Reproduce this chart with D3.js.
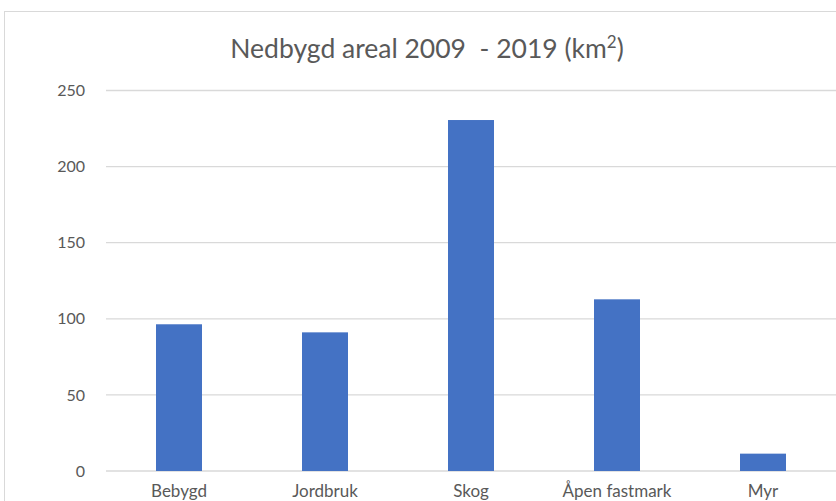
<!DOCTYPE html>
<html>
<head>
<meta charset="utf-8">
<script src="https://cdn.jsdelivr.net/npm/d3@7"></script>
<style>
  html, body { margin: 0; padding: 0; background: #fff; }
  svg { display: block; font-family: Lato, "Open Sans", sans-serif; }
</style>
</head>
<body>
<svg id="chart" width="836" height="501"></svg>
<script>
// ── Data ─────────────────────────────────────────────────────────────────────
const categories = ["Bebygd", "Jordbruk", "Skog", "Åpen fastmark", "Myr"];
const values     = [96.4, 91.1, 230.6, 112.8, 11.4];
const yTicks     = [0, 50, 100, 150, 200, 250];

// ── Layout ───────────────────────────────────────────────────────────────────
const W = 836, H = 501;
const plot = { left: 106, right: 836, top: 90.5, bottom: 471 };
const textColor = "#595959";

const svg = d3.select("#chart");

// Chart frame (right edge runs off the picture)
svg.append("rect")
  .attr("x", 4.5).attr("y", 11.5)
  .attr("width", W + 10).attr("height", H)
  .attr("fill", "#fff")
  .attr("stroke", "#d9d9d9")
  .attr("stroke-width", 1);

const x = d3.scaleBand()
  .domain(categories)
  .range([plot.left, plot.right])
  .paddingInner(0.685)
  .paddingOuter(0.3425);

const y = d3.scaleLinear()
  .domain([0, 250])
  .range([plot.bottom, plot.top]);

// Gridlines
svg.append("g")
  .selectAll("line")
  .data(yTicks)
  .join("line")
  .attr("x1", plot.left).attr("x2", plot.right)
  .attr("y1", d => y(d)).attr("y2", d => y(d))
  .attr("stroke", "#d9d9d9")
  .attr("stroke-width", 1.3);

// Y axis labels
const yAxis = d3.axisLeft(y).tickValues(yTicks).tickSize(0).tickPadding(21);
svg.append("g")
  .attr("transform", `translate(${plot.left},0)`)
  .call(yAxis)
  .call(g => g.select(".domain").remove())
  .call(g => g.selectAll("text")
    .attr("fill", textColor)
    .attr("font-size", 16)
    .attr("font-family", "Lato, sans-serif"));

// Bars
svg.append("g")
  .selectAll("rect")
  .data(categories)
  .join("rect")
  .attr("x", d => x(d))
  .attr("width", x.bandwidth())
  .attr("y", (d, i) => y(values[i]))
  .attr("height", (d, i) => y(0) - y(values[i]))
  .attr("fill", "#4472c4");

// X axis labels
const xAxis = d3.axisBottom(x).tickSize(0).tickPadding(14);
svg.append("g")
  .attr("transform", `translate(0,${plot.bottom})`)
  .call(xAxis)
  .call(g => g.select(".domain").remove())
  .call(g => g.selectAll("text")
    .attr("fill", textColor)
    .attr("font-size", 17)
    .attr("font-family", "Lato, sans-serif"));

// Title
const title = svg.append("text")
  .attr("x", 427).attr("y", 58)
  .attr("text-anchor", "middle")
  .attr("fill", textColor)
  .attr("font-size", 26.5)
  .attr("font-family", "Lato, sans-serif")
  .attr("xml:space", "preserve");
title.append("tspan").text("Nedbygd areal 2009  - 2019 (km");
title.append("tspan").attr("font-size", 17).attr("dy", -10).text("2");
title.append("tspan").attr("dy", 10).text(")");
</script>
</body>
</html>
